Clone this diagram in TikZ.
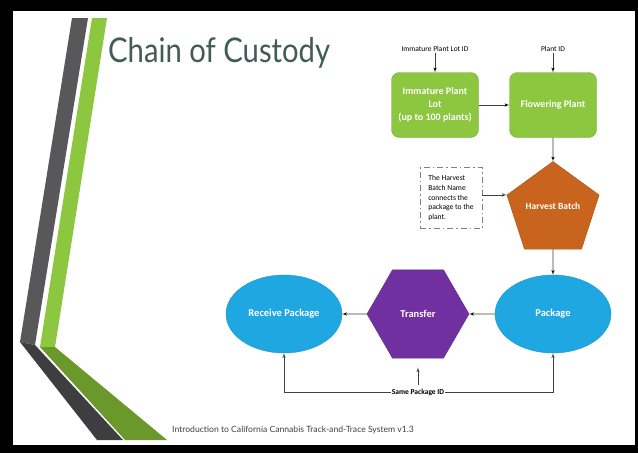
\documentclass[tikz,border=0pt]{standalone}
\usepackage{fontspec}
\setmainfont{Carlito}
\newfontfamily\gillfont{Lato}
\newfontfamily\gilltitle[FakeStretch=0.86]{Lato}
\usepackage{tikz}
\usetikzlibrary{calc, arrows, shapes.geometric}
\definecolor{leafgreen}{RGB}{141,198,63}
\definecolor{batchorange}{RGB}{200,100,30}
\definecolor{pkgblue}{RGB}{30,167,225}
\definecolor{xferpurple}{RGB}{112,48,160}
\definecolor{linegray}{RGB}{64,64,64}
\definecolor{bargray}{RGB}{88,88,90}
\definecolor{bardark}{RGB}{62,62,64}
\definecolor{barlime}{RGB}{141,198,63}
\definecolor{barolive}{RGB}{107,152,42}
\definecolor{titlegray}{RGB}{64,92,84}
\tikzstyle{box}=[draw=leafgreen!85!black, fill=leafgreen, rounded corners=8pt, minimum width=87pt, minimum height=65pt, text=white, font=\bfseries\fontsize{10}{13}\selectfont, align=center]
\tikzstyle{pent}=[regular polygon, regular polygon sides=5, draw=batchorange!85!black, fill=batchorange, minimum size=97pt, inner sep=0pt, text depth=8pt, text=white, font=\bfseries\fontsize{9.5}{11}\selectfont]
\tikzstyle{oval}=[ellipse, draw=pkgblue!90!black, fill=pkgblue, minimum width=116pt, minimum height=78pt, text=white, font=\bfseries\fontsize{10.5}{12}\selectfont]
\tikzstyle{hexa}=[regular polygon, regular polygon sides=6, minimum size=102pt, inner sep=0pt, draw=xferpurple!85!black, fill=xferpurple, text=white, font=\bfseries\fontsize{10.5}{12}\selectfont]
\tikzstyle{idlabel}=[font=\fontsize{7.5}{9}\selectfont, inner sep=1pt]
\tikzstyle{remark}=[draw=gray, line width=0.8pt, dash pattern=on 6pt off 3pt on 1.5pt off 3pt, align=left, font=\fontsize{7.6}{9.6}\selectfont, minimum width=62pt, minimum height=61pt, inner sep=4pt]
\tikzstyle{link}=[->, draw=linegray, line width=0.6pt]

\begin{document}
\begin{tikzpicture}[x=1pt,y=1pt,node distance=118pt,>=latex']
  % slide frame
  \fill[black] (0,0) rectangle (638,-453);
  \fill[white] (13,-11) rectangle (635,-445);
  \useasboundingbox (0,0) rectangle (638,-453);
  % bars on the left
  \fill[bargray] (72,-18) -- (88,-18) -- (35,-345) -- (20,-342) -- cycle;
  \fill[bardark] (20,-342) -- (35,-345) -- (123,-440) -- (97,-440) -- cycle;
  \fill[barlime] (92,-18) -- (107,-18) -- (55,-347) -- (40,-347) -- cycle;
  \fill[barolive] (40,-347) -- (55,-347) -- (167,-440) -- (125,-440) -- cycle;
  \node [anchor=base west, text=titlegray, font=\gilltitle\fontsize{34}{40}\selectfont, inner sep=0pt] (title) at (108,-62) {Chain of Custody};
  \node [anchor=west, text=linegray, font=\gillfont\fontsize{8.6}{10}\selectfont, inner sep=0pt] (foot) at (172,-430) {Introduction to California Cannabis Track-and-Trace System v1.3};

  \node [box] (lot) at (435,-105) {Immature Plant\\Lot\\(up to 100 plants)};
  \node [box] (plant) [right of=lot] {Flowering Plant};
  \node [idlabel] (lotid) [above of=lot, node distance=56pt] {Immature Plant Lot ID};
  \node [idlabel] (plantid) [above of=plant, node distance=56pt] {Plant ID};
  \node [pent] (batch) [below of=plant, node distance=105pt] {Harvest Batch};
  \node [remark] (hint) [left of=batch, node distance=102pt, yshift=12pt] {The Harvest\\Batch Name\\connects the\\package to the\\plant.};
  \node [oval] (pkg) [below of=batch, node distance=104pt] {Package};
  \node [hexa] (xfer) [left of=pkg, node distance=135pt] {Transfer};
  \node [oval] (recv) [left of=xfer, node distance=134pt] {Receive Package};
  \node [idlabel, font=\bfseries\fontsize{7.5}{9}\selectfont] (same) [below of=xfer, node distance=78pt] {Same Package ID};

  \path[link] (lotid) edge (lot);
  \path[link] (plantid) edge (plant);
  \path[link] (lot) edge (plant);
  \path[link] (plant) edge (batch);
  \path[link] (batch) edge (pkg);
  \path[link] (pkg) edge (xfer);
  \path[link] (xfer) edge (recv);
  \draw[link] (hint.east |- batch.corner 2) -- (batch.corner 2);
  \draw[link] (same.west) -| (recv.south);
  \draw[link] (same.east) -| (pkg.south);
  \draw[link, shorten <=3pt, shorten >=9pt] (same) -- (xfer);
\end{tikzpicture}
\end{document}
